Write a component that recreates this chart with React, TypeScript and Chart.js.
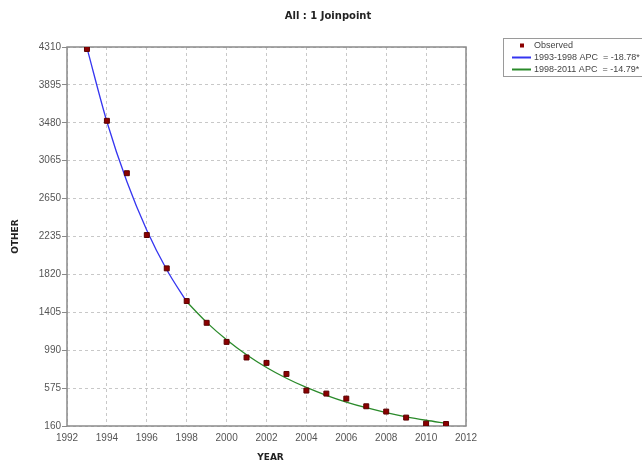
import React, { useEffect, useRef } from "react";
import { Chart, registerables } from "chart.js";

Chart.register(...registerables);

const chartTitle = "All : 1 Joinpoint";
const xAxisTitle = "YEAR";
const yAxisTitle = "OTHER";

const years = [1993, 1994, 1995, 1996, 1997, 1998, 1999, 2000, 2001, 2002, 2003, 2004, 2005, 2006, 2007, 2008, 2009, 2010, 2011];
const observed = [4288, 3502, 2928, 2251, 1886, 1528, 1290, 1081, 910, 851, 730, 548, 515, 460, 376, 318, 252, 186, 182];

const seg1Years = [1993, 1994, 1995, 1996, 1997, 1998];
const seg1Fit = [4300, 3492, 2837, 2304, 1871, 1520];

const seg2Years = [1998, 1999, 2000, 2001, 2002, 2003, 2004, 2005, 2006, 2007, 2008, 2009, 2010, 2011];
const seg2Fit = [1520, 1295, 1104, 940, 801, 683, 582, 496, 422, 360, 307, 261, 223, 190];

const yTickValues = [160, 575, 990, 1405, 1820, 2235, 2650, 3065, 3480, 3895, 4310];
const yTickLabels = ["160", "575", "990", "1405", "1820", "2235", "2650", "3065", "3480", "3895", "4310"];

const legendLabels = ["Observed", "1993-1998 APC  = -18.78*", "1998-2011 APC  = -14.79*"];

const OBS_COLOR = "#8b0000";
const SEG1_COLOR = "#3535f0";
const SEG2_COLOR = "#2a8a2a";

export default function App() {
  const ref = useRef<HTMLCanvasElement | null>(null);

  useEffect(() => {
    if (!ref.current) return;

    const framePlugin = {
      id: "frame",
      beforeDatasetsDraw(chart: any) {
        const { ctx, chartArea: a } = chart;
        ctx.save();
        ctx.strokeStyle = "#8a8a8a";
        ctx.lineWidth = 1.5;
        ctx.strokeRect(a.left, a.top, a.right - a.left, a.bottom - a.top);
        ctx.restore();
      },
    };

    const textPlugin = {
      id: "texts",
      afterDraw(chart: any) {
        const { ctx, chartArea: a } = chart;
        ctx.save();
        ctx.fillStyle = "#222";
        ctx.textAlign = "center";
        ctx.textBaseline = "middle";
        ctx.font = "bold 10px 'DejaVu Sans'";
        ctx.fillText(chartTitle, 328, 16);
        ctx.font = "bold 9px 'DejaVu Sans'";
        ctx.fillText(xAxisTitle, (a.left + a.right) / 2 + 4, 458);
        ctx.save();
        ctx.translate(16, (a.top + a.bottom) / 2);
        ctx.rotate(-Math.PI / 2);
        ctx.fillText(yAxisTitle, 0, 0);
        ctx.restore();

        // legend
        const lx = 503.5;
        const ly = 38.5;
        ctx.fillStyle = "#fff";
        ctx.fillRect(lx, ly, 160, 38);
        ctx.strokeStyle = "#9a9a9a";
        ctx.lineWidth = 1;
        ctx.strokeRect(lx, ly, 160, 38);
        ctx.font = "9px 'Liberation Sans'";
        ctx.textAlign = "left";
        const rows = [45.5, 57.5, 69.5];
        ctx.fillStyle = OBS_COLOR;
        ctx.fillRect(520, rows[0] - 2, 4, 4);
        ctx.strokeStyle = SEG1_COLOR;
        ctx.lineWidth = 2;
        ctx.beginPath();
        ctx.moveTo(512, rows[1]);
        ctx.lineTo(531, rows[1]);
        ctx.stroke();
        ctx.strokeStyle = SEG2_COLOR;
        ctx.beginPath();
        ctx.moveTo(512, rows[2]);
        ctx.lineTo(531, rows[2]);
        ctx.stroke();
        ctx.fillStyle = "#444";
        legendLabels.forEach((t, i) => ctx.fillText(t, 534, rows[i]));
        ctx.restore();
      },
    };

    const chart = new Chart(ref.current, {
      type: "scatter",
      data: {
        datasets: [
          {
            label: legendLabels[0],
            data: years.map((x, i) => ({ x, y: observed[i] })),
            pointStyle: "rect",
            pointRadius: 3.5,
            pointBackgroundColor: OBS_COLOR,
            pointBorderColor: "#5a0000",
            pointBorderWidth: 1,
            showLine: false,
          },
          {
            label: legendLabels[1],
            data: seg1Years.map((x, i) => ({ x, y: seg1Fit[i] })),
            showLine: true,
            pointRadius: 0,
            borderColor: SEG1_COLOR,
            borderWidth: 1.3,
            cubicInterpolationMode: "monotone",
          },
          {
            label: legendLabels[2],
            data: seg2Years.map((x, i) => ({ x, y: seg2Fit[i] })),
            showLine: true,
            pointRadius: 0,
            borderColor: SEG2_COLOR,
            borderWidth: 1.3,
            cubicInterpolationMode: "monotone",
          },
        ],
      },
      options: {
        responsive: false,
        animation: false,
        layout: { padding: { top: 47, right: 176, bottom: 0, left: 0 } },
        plugins: {
          legend: { display: false },
          title: { display: false },
          tooltip: { enabled: false },
        },
        scales: {
          x: {
            type: "linear",
            min: 1992,
            max: 2012,
            afterFit: (s: any) => {
              s.height = 38;
            },
            ticks: {
              stepSize: 2,
              padding: 6,
              color: "#555",
              font: { family: "'Liberation Sans'", size: 10 },
              callback: (v: any) => String(v),
            },
            grid: { color: "#c8c8c8", lineWidth: 1, drawTicks: false },
            border: { display: false, dash: [3, 3] },
          },
          y: {
            type: "linear",
            min: 160,
            max: 4310,
            afterFit: (s: any) => {
              s.width = 67;
            },
            afterBuildTicks: (s: any) => {
              s.ticks = yTickValues.map((v) => ({ value: v }));
            },
            ticks: {
              padding: 1,
              color: "#555",
              font: { family: "'Liberation Sans'", size: 10 },
              callback: (_v: any, i: number) => yTickLabels[i],
            },
            grid: { color: "#c8c8c8", lineWidth: 1, drawTicks: true, tickLength: 5, tickColor: "#8a8a8a", tickBorderDash: [] },
            border: { display: false, dash: [3, 3] },
          },
        },
      },
      plugins: [framePlugin, textPlugin],
    });

    return () => chart.destroy();
  }, []);

  return (
    <div style={{ position: "absolute", left: 0, top: 0, width: 642, height: 464, background: "#fff" }}>
      <canvas ref={ref} width={642} height={464} style={{ display: "block" }} />
    </div>
  );
}
